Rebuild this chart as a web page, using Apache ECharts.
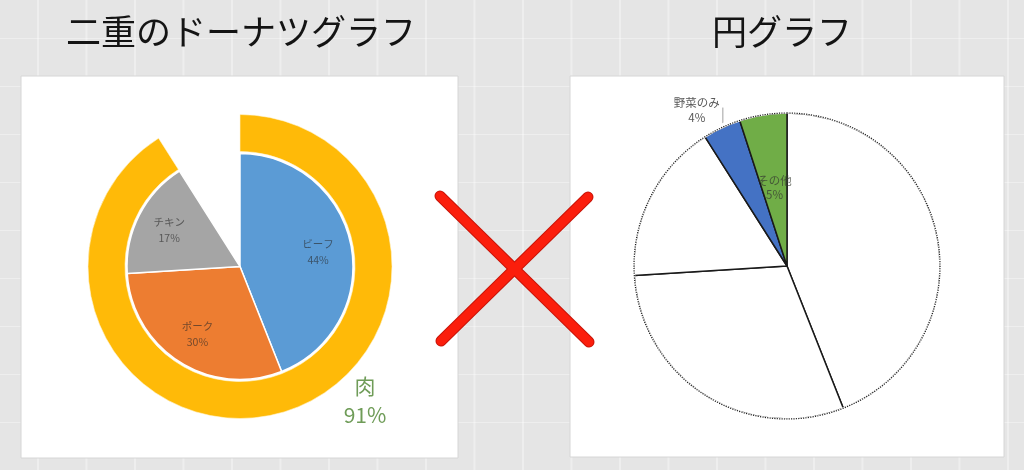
<!DOCTYPE html>
<html>
<head>
<meta charset="utf-8">
<script src="https://cdn.jsdelivr.net/npm/echarts@6/dist/echarts.min.js"></script>
<style>
html,body{margin:0;padding:0;}
body{width:1024px;height:470px;overflow:hidden;background-color:#e5e5e5;
background-image:linear-gradient(to right, rgba(255,255,255,0.35) 1.5px, transparent 1.5px),linear-gradient(to bottom, rgba(255,255,255,0.35) 1.5px, transparent 1.5px);
background-size:48.5px 48px;background-position:37px 38px;}
#chart{width:1024px;height:470px;}
</style>
</head>
<body>
<div id="chart"></div>
<script>
// ---- data ----
const titles = ['二重のドーナツグラフ', '円グラフ'];
const donutCategories = ['ビーフ', 'ポーク', 'チキン'];
const donutValues = [44, 30, 17];
const donutGapName = '野菜・その他';
const donutGapValue = 9;
const ringCategory = '肉';
const ringValue = 91;
const pieCategories = ['ビーフ', 'ポーク', 'チキン', '野菜のみ', 'その他'];
const pieValues = [44, 30, 17, 4, 5];

// ---- styles ----
const donutColors = ['#5B9BD5', '#ED7D31', '#A5A5A5'];
const ringColor = '#FFBA08';
const pieColors = ['#ffffff', '#ffffff', '#ffffff', '#4472C4', '#70AD47'];
const FONT = '"Noto Sans CJK JP", "Noto Sans", sans-serif';
const leftCenter = [240, 266.5];
const rightCenter = [787, 266];

const chart = echarts.init(document.getElementById('chart'), null, {renderer: 'canvas'});

const innerData = donutCategories.map((n, i) => ({name: n, value: donutValues[i], itemStyle: {color: donutColors[i]}}))
  .concat([{name: donutGapName, value: donutGapValue, itemStyle: {color: 'transparent', borderWidth: 0}, label: {show: false}}]);

const innerLabelData = donutCategories.map((n, i) => ({name: n, value: donutValues[i]}))
  .concat([{name: donutGapName, value: donutGapValue, label: {show: false}}]);

const ringData = [
  {name: ringCategory, value: ringValue, itemStyle: {color: ringColor}},
  {name: donutGapName, value: donutGapValue, itemStyle: {color: 'transparent', borderWidth: 0}, label: {show: false}, labelLine: {show: false}}
];

const pieData = pieCategories.map((n, i) => ({name: n, value: pieValues[i], itemStyle: {color: pieColors[i]}}));

const pieLabelData = pieCategories.map((n, i) => {
  const d = {name: n, value: pieValues[i]};
  if (n === '野菜のみ') {
    d.label = {show: true, position: 'outside', color: '#595959', fontSize: 11.5, lineHeight: 15};
    d.labelLine = {show: true, length: 18, length2: 0, lineStyle: {color: '#a0a0a0', width: 1}};
  } else if (n === 'その他') {
    d.label = {show: true, position: 'inside', color: 'rgba(55,60,50,0.75)', fontSize: 11.5, lineHeight: 14};
  }
  return d;
});

const common = {type: 'pie', silent: true, animation: false, emphasis: {disabled: true}, startAngle: 90, clockwise: true, avoidLabelOverlap: false};

const option = {
  animation: false,
  title: [
    {text: titles[0], left: 236, top: 9, textAlign: 'center', textStyle: {fontFamily: FONT, fontSize: 35, fontWeight: 'normal', color: '#141414'}},
    {text: titles[1], left: 777, top: 9, textAlign: 'center', textStyle: {fontFamily: FONT, fontSize: 35, fontWeight: 'normal', color: '#141414'}}
  ],
  graphic: [
    {type: 'rect', z: -10, shape: {x: 21, y: 76, width: 437, height: 382}, style: {fill: '#ffffff', stroke: '#d6d6d6', lineWidth: 1}},
    {type: 'rect', z: -10, shape: {x: 570, y: 76, width: 434, height: 381}, style: {fill: '#ffffff', stroke: '#d6d6d6', lineWidth: 1}},
    {type: 'line', z: 100, shape: {x1: 440, y1: 196, x2: 589, y2: 342}, style: {stroke: '#c81408', lineWidth: 11, lineCap: 'round'}},
    {type: 'line', z: 100, shape: {x1: 588, y1: 197, x2: 441, y2: 341}, style: {stroke: '#c81408', lineWidth: 11, lineCap: 'round'}},
    {type: 'line', z: 101, shape: {x1: 440, y1: 196, x2: 589, y2: 342}, style: {stroke: '#fb1e0c', lineWidth: 9, lineCap: 'round'}},
    {type: 'line', z: 101, shape: {x1: 588, y1: 197, x2: 441, y2: 341}, style: {stroke: '#fb1e0c', lineWidth: 9, lineCap: 'round'}}
  ],
  series: [
    Object.assign({}, common, {
      name: 'inner', center: leftCenter, radius: [0, 113], data: innerData,
      itemStyle: {borderColor: '#ffffff', borderWidth: 1.5},
      label: {show: false}, labelLine: {show: false}
    }),
    Object.assign({}, common, {
      name: 'innerLabels', center: leftCenter, radius: [40, 113], data: innerLabelData,
      itemStyle: {color: 'transparent', borderWidth: 0},
      label: {show: true, position: 'inside', formatter: '{b}\n{c}%', fontFamily: FONT, fontSize: 10.5, lineHeight: 16, color: 'rgba(40,40,40,0.62)'},
      labelLine: {show: false}
    }),
    Object.assign({}, common, {
      name: 'ring', center: leftCenter, radius: [115, 152], data: ringData,
      itemStyle: {borderColor: '#fff6d8', borderWidth: 0.6},
      label: {show: true, position: 'outside', formatter: '{b}\n{c}%', fontFamily: FONT, fontSize: 21, lineHeight: 29, color: '#6f9c58', align: 'center'},
      labelLine: {show: false},
      labelLayout: {x: 365, y: 401, align: 'center', verticalAlign: 'middle'}
    }),
    Object.assign({}, common, {
      name: 'pie', center: rightCenter, radius: [0, 153], data: pieData,
      itemStyle: {borderColor: '#1a1a1a', borderWidth: 1.5},
      label: {show: false}, labelLine: {show: false}
    }),
    Object.assign({}, common, {
      name: 'pieCover', center: rightCenter, radius: [152.2, 157], data: [{name: 'cover', value: 1}],
      itemStyle: {color: '#ffffff', borderWidth: 0},
      label: {show: false}, labelLine: {show: false}
    }),
    Object.assign({}, common, {
      name: 'pieOutline', center: rightCenter, radius: [0, 153], data: [{name: 'outline', value: 1}],
      itemStyle: {color: 'transparent', borderColor: '#1e1e1e', borderWidth: 1.2, borderType: 'dotted'},
      label: {show: false}, labelLine: {show: false}
    }),
    Object.assign({}, common, {
      name: 'pieLabels', center: rightCenter, radius: [0, 153], data: pieLabelData,
      itemStyle: {color: 'transparent', borderWidth: 0},
      label: {show: false, formatter: '{b}\n{c}%', fontFamily: FONT},
      labelLine: {show: false},
      labelLayout: function (params) {
        if (params.dataIndex === 3 && params.labelLinePoints) {
          const p0 = params.labelLinePoints[0];
          return {
            x: p0[0] - 25, y: p0[1] - 17.5, align: 'center', verticalAlign: 'middle',
            labelLinePoints: [[p0[0] + 1, p0[1] - 1], [p0[0] + 1, p0[1] - 20], [p0[0] + 1, p0[1] - 20]]
          };
        }
        return {};
      }
    })
  ]
};
chart.setOption(option);
</script>
</body>
</html>
